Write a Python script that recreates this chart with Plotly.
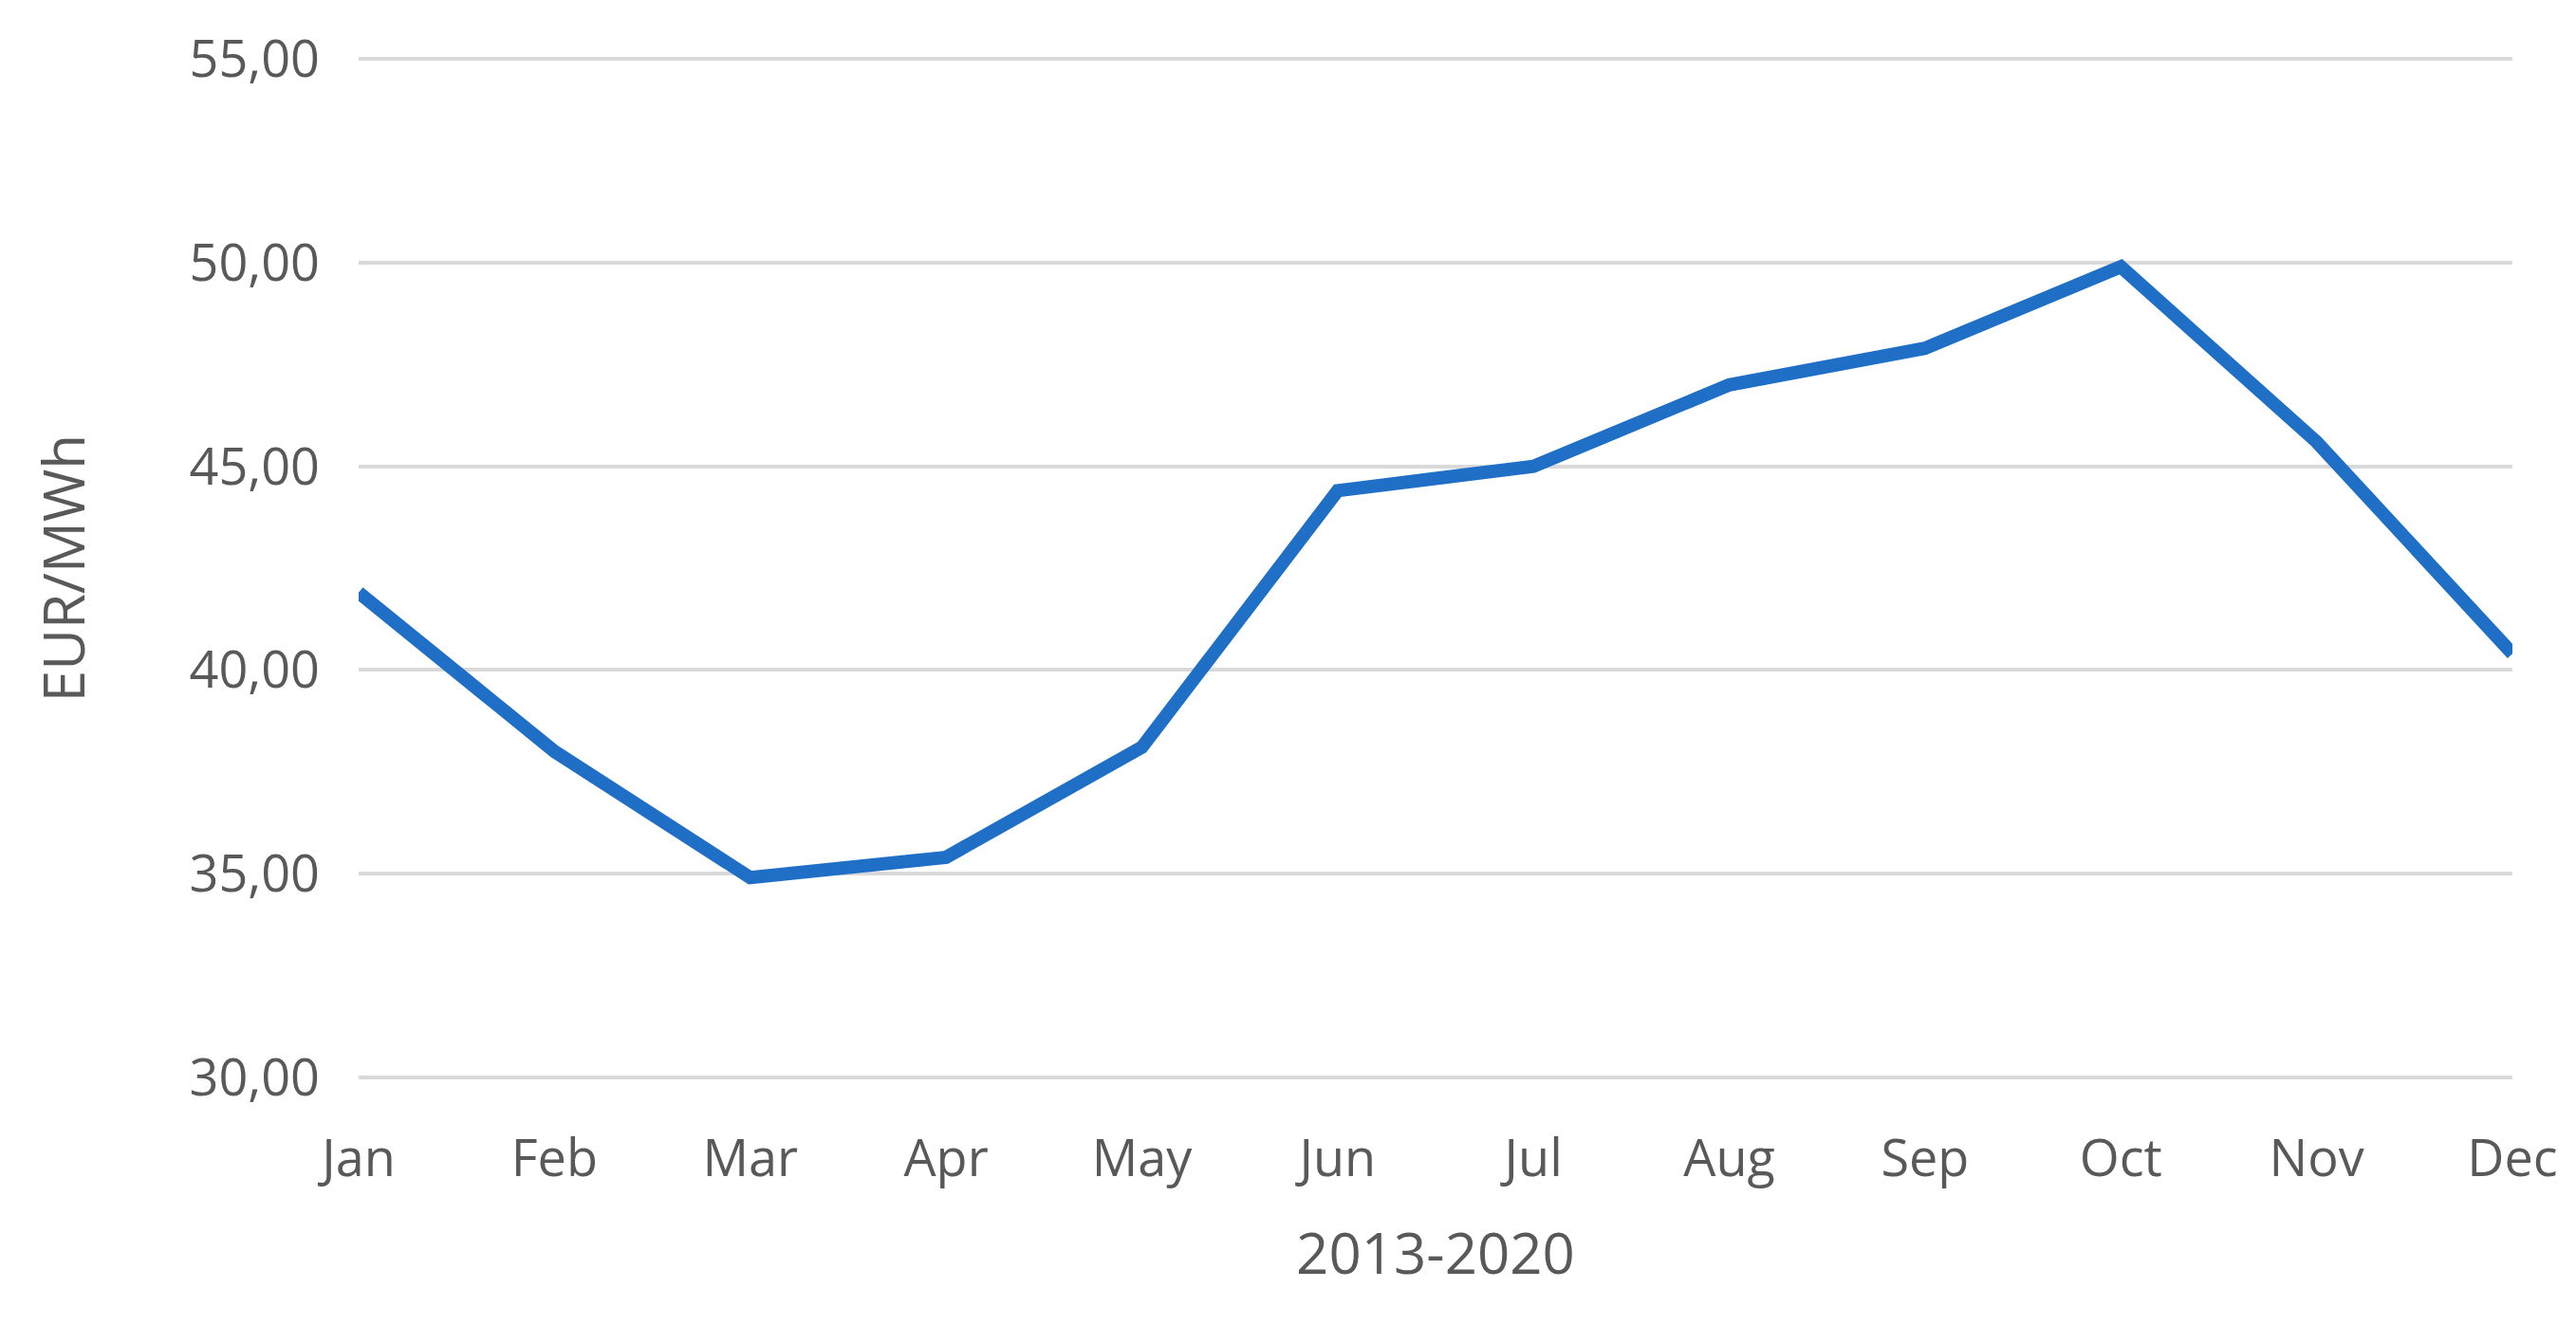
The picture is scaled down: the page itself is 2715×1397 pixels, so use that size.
import plotly.graph_objects as go

months = ["Jan", "Feb", "Mar", "Apr", "May", "Jun", "Jul", "Aug", "Sep", "Oct", "Nov", "Dec"]
prices = [41.9, 38.0, 34.9, 35.4, 38.1, 44.4, 45.0, 47.0, 47.9, 49.9, 45.6, 40.4]
y_ticks = [30, 35, 40, 45, 50, 55]

fig = go.Figure(
    data=[go.Scatter(
        x=months,
        y=prices,
        mode="lines",
        line=dict(width=14, color="#1f6fc6"),
        showlegend=False
    )]
)

fig.update_layout(
    width=2715,
    height=1397,
    plot_bgcolor="white",
    paper_bgcolor="white",
    separators=",.",
    font=dict(family="Open Sans, DejaVu Sans, sans-serif", color="#595959", size=54),
    margin=dict(l=370, r=75, t=50, b=265),
)
fig.update_xaxes(
    showgrid=False,
    range=[0, 11],
    title=dict(text="2013-2020", font=dict(size=60), standoff=45),
    ticks="",
    ticklabelstandoff=45,
)
fig.update_yaxes(
    range=[29.9, 55.1],
    tickvals=y_ticks,
    tickformat=".2f",
    showgrid=True,
    gridcolor="#d9d9d9",
    gridwidth=4,
    zeroline=False,
    title=dict(text="EUR/MWh", font=dict(size=60), standoff=90),
    ticks="",
    ticklabelstandoff=40,
)

fig.write_html("out.html")
